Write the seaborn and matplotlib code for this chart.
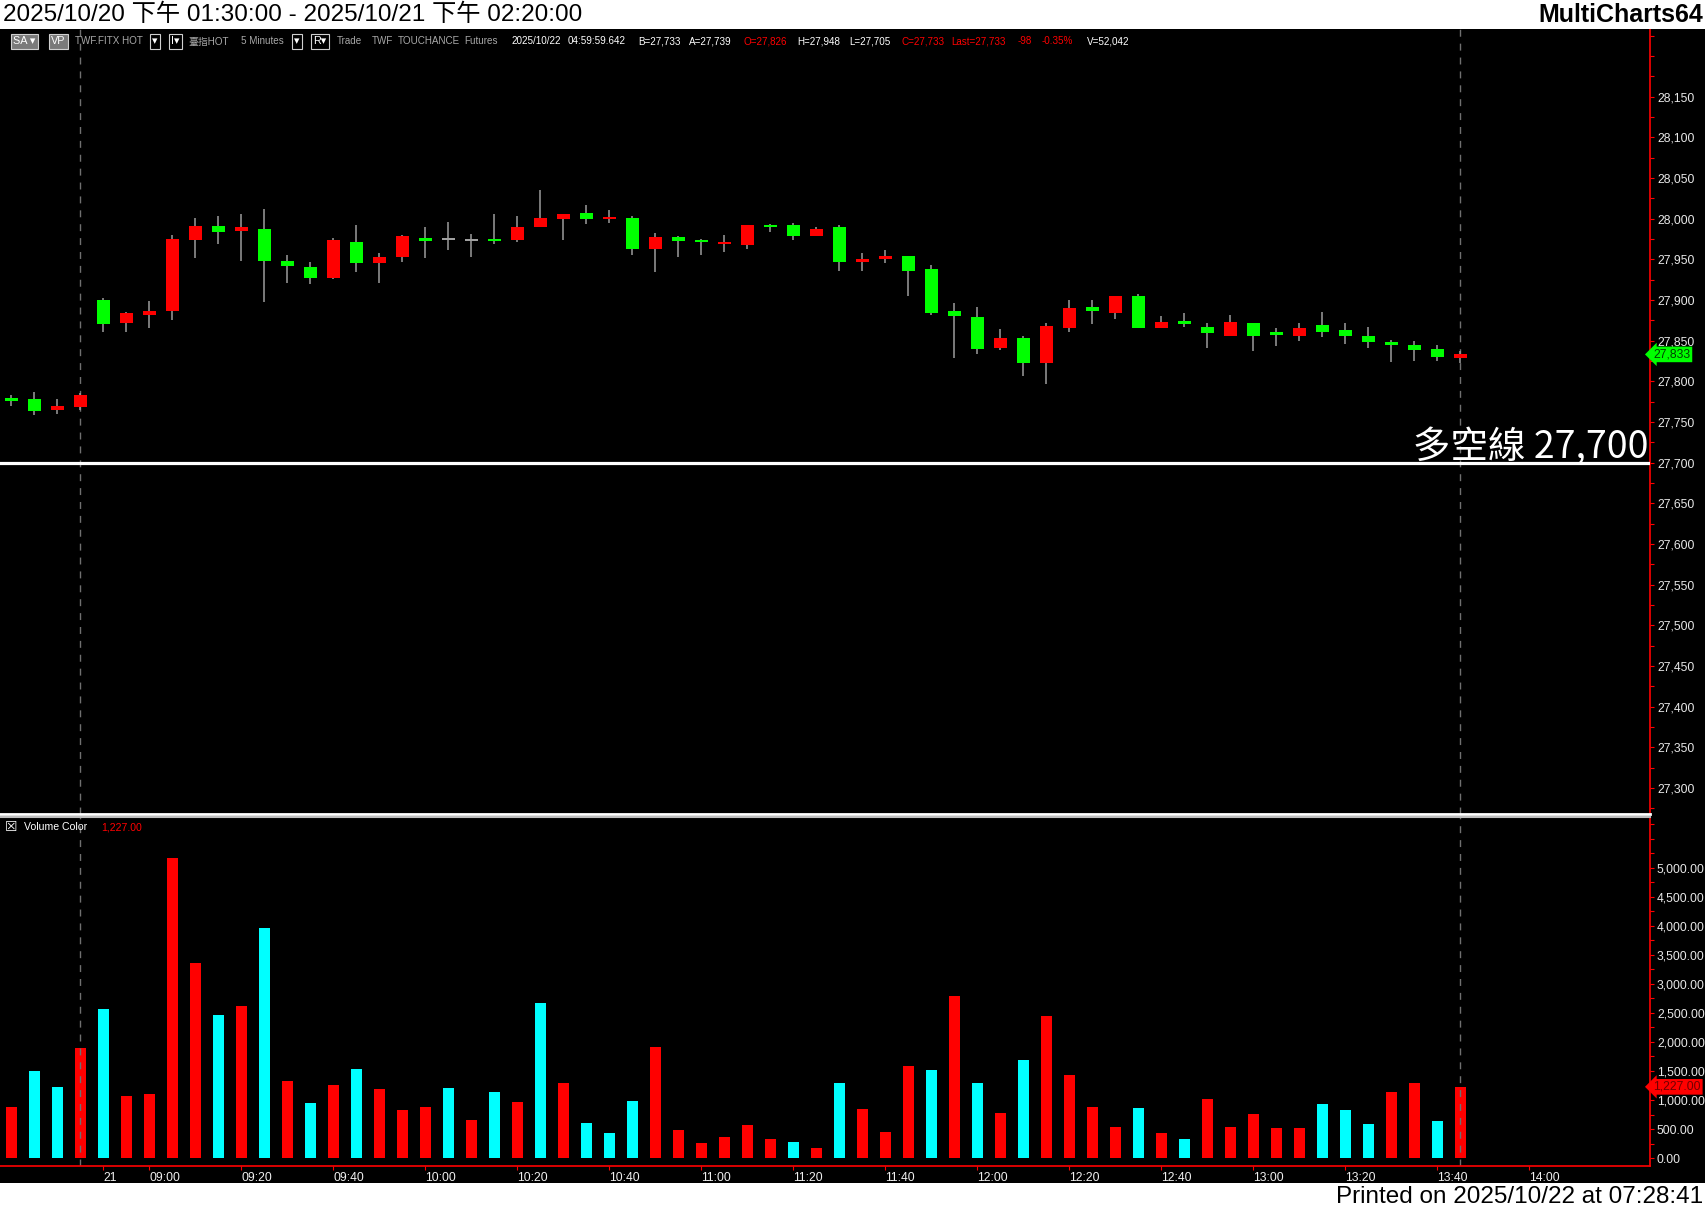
import numpy as np
import pandas as pd
import matplotlib
matplotlib.use("Agg")
import matplotlib.pyplot as plt
import seaborn as sns
from matplotlib.patches import Rectangle
from matplotlib.ticker import MultipleLocator, FixedLocator

# TX futures, 5 minute bars: 10/20 13:30-13:45, then 10/21 08:50-13:45
opens = [27780, 27778, 27765, 27768, 27900, 27872, 27882, 27886, 27974, 27991,
         27985, 27987, 27948, 27941, 27927, 27971, 27945, 27953, 27976, 27974,
         27973, 27975, 27974, 27990, 28000, 28007, 28000, 28001, 27962, 27977,
         27974, 27969, 27967, 27991, 27992, 27979, 27989, 27946, 27950, 27954,
         27938, 27886, 27879, 27841, 27853, 27823, 27865, 27891, 27884, 27905,
         27866, 27874, 27867, 27856, 27872, 27861, 27856, 27869, 27863, 27856,
         27848, 27845, 27840, 27829]
highs = [27783, 27787, 27778, 27785, 27902, 27885, 27899, 27980, 28001, 28003,
         28006, 28012, 27955, 27947, 27976, 27992, 27958, 27980, 27990, 27996,
         27981, 28006, 28003, 28035, 28006, 28017, 28011, 28003, 27982, 27979,
         27975, 27980, 27992, 27993, 27995, 27990, 27992, 27958, 27961, 27954,
         27943, 27896, 27891, 27864, 27855, 27871, 27900, 27900, 27905, 27907,
         27880, 27884, 27871, 27882, 27872, 27866, 27871, 27885, 27871, 27867,
         27851, 27850, 27845, 27837]
lows = [27770, 27758, 27760, 27765, 27860, 27861, 27865, 27875, 27951, 27969,
        27948, 27897, 27921, 27919, 27926, 27934, 27921, 27946, 27951, 27961,
        27953, 27969, 27971, 27990, 27974, 27993, 27994, 27955, 27934, 27953,
        27955, 27959, 27963, 27984, 27974, 27978, 27936, 27935, 27945, 27905,
        27882, 27828, 27833, 27839, 27807, 27797, 27860, 27870, 27877, 27865,
        27865, 27867, 27841, 27855, 27837, 27843, 27849, 27854, 27846, 27841,
        27824, 27825, 27825, 27823]
closes = [27776, 27764, 27770, 27783, 27870, 27884, 27886, 27975, 27991, 27984,
          27989, 27948, 27942, 27927, 27974, 27945, 27953, 27979, 27972, 27974,
          27973, 27972, 27989, 28001, 28006, 28000, 28002, 27962, 27977, 27973,
          27971, 27970, 27992, 27990, 27978, 27987, 27947, 27950, 27954, 27936,
          27884, 27880, 27840, 27853, 27822, 27868, 27890, 27886, 27905, 27865,
          27873, 27870, 27859, 27873, 27856, 27857, 27866, 27860, 27855, 27848,
          27844, 27839, 27830, 27833]
volumes = [881, 1493, 1219, 1888, 2574, 1064, 1098, 5166, 3364, 2471,
           2626, 3965, 1321, 944, 1253, 1527, 1184, 824, 875, 1201,
           652, 1133, 961, 2677, 1287, 601, 429, 978, 1905, 481,
           257, 360, 566, 326, 275, 172, 1287, 841, 446, 1579,
           1510, 2797, 1287, 772, 1682, 2454, 1424, 875, 532, 858,
           435, 332, 1018, 538, 761, 521, 521, 932, 830, 589,
           1138, 1293, 641, 1227]
vol_side = ["up", "dn", "dn", "up", "dn", "up", "up", "up", "up", "dn",
            "up", "dn", "up", "dn", "up", "dn", "up", "up", "up", "dn",
            "up", "dn", "up", "dn", "up", "dn", "dn", "dn", "up", "up",
            "up", "up", "up", "up", "dn", "up", "dn", "up", "up", "up",
            "dn", "up", "dn", "up", "dn", "up", "up", "up", "up", "dn",
            "up", "dn", "up", "up", "up", "up", "up", "dn", "dn", "dn",
            "up", "up", "dn", "up"]
bull_bear = 27700

# time slots of the x axis (chart runs on to 14:00)
slots = pd.date_range("2025-10-20 13:30", "2025-10-20 13:45", freq="5min").append(
    pd.date_range("2025-10-21 08:50", "2025-10-21 14:00", freq="5min"))

RED, GREEN, CYAN = "#ff0000", "#00ff00", "#00ffff"
W, H = 1705, 1211
FONT = ["Liberation Sans", "DejaVu Sans"]
CJK = ["Liberation Sans", "Noto Sans CJK TC", "DejaVu Sans"]
plt.rcParams["font.family"] = FONT


def fx(px):
    return px / W


def fy(py):
    return 1 - py / H


fig = plt.figure(figsize=(W / 100, H / 100), dpi=100, facecolor="black")
ax_p = fig.add_axes([0, fy(814), fx(1650), fy(29) - fy(814)])
ax_v = fig.add_axes([0, fy(1166), fx(1650), fy(817) - fy(1166)])

# white bands for title and footer
fig.patches.append(Rectangle((0, fy(29)), 1, 29 / H, transform=fig.transFigure,
                             fc="white", ec="none", zorder=0))
fig.patches.append(Rectangle((0, 0), 1, 28 / H, transform=fig.transFigure,
                             fc="white", ec="none", zorder=0))

# ---- candles
x = np.arange(len(closes))
o, h, l, c = map(np.array, (opens, highs, lows, closes))
cols = np.where(c > o, RED, np.where(c < o, GREEN, "#a0a0a0"))
ax_p.vlines(x, l, h, color="#9c9c9c", lw=1.1, zorder=2)
ax_p.bar(x, np.maximum(np.abs(c - o), 1.6), bottom=np.minimum(o, c), width=0.57,
         color=cols, linewidth=0, zorder=3)

ax_p.axhline(bull_bear, color="white", lw=2.3, zorder=4)
ax_p.text(0.999, bull_bear + 6, f"多空線 {bull_bear:,}", transform=ax_p.get_yaxis_transform(),
          ha="right", va="baseline", fontsize=27, color="white",
          family=["Noto Sans CJK TC", "DejaVu Sans"], zorder=5)

# ---- volume
sns.barplot(x=x, y=volumes, hue=vol_side, palette={"up": RED, "dn": CYAN},
            native_scale=True, dodge=False, width=0.48, saturation=1,
            errorbar=None, legend=False, linewidth=0, ax=ax_v)
ax_v.set_xlabel("")
ax_v.set_ylabel("")

for ax in (ax_p, ax_v):
    ax.set_facecolor("black")
    ax.set_xlim(-0.5, 71.24)
    ax.axvline(3, color="#707070", ls=(0, (5, 5)), lw=1, zorder=1)
    ax.axvline(len(closes) - 1, color="#707070", ls=(0, (5, 5)), lw=1, zorder=1)
    for s in ("left", "top"):
        ax.spines[s].set_visible(False)
    ax.spines["right"].set_color(RED)
    ax.spines["right"].set_linewidth(1.2)
    ax.yaxis.tick_right()
    ax.tick_params(axis="y", which="both", colors=RED, labelcolor="#e8e8e8",
                   labelsize=8.7, length=3, width=0.8, pad=2)

ax_p.set_ylim(27268, 28233)
ax_p.yaxis.set_major_locator(FixedLocator(np.arange(27300, 28151, 50)))
ax_p.yaxis.set_minor_locator(MultipleLocator(25))
ax_p.yaxis.set_major_formatter(lambda v, p: f"{v:,.0f}")
ax_p.tick_params(axis="x", bottom=False, labelbottom=False)
ax_p.spines["bottom"].set_color("white")
ax_p.spines["bottom"].set_linewidth(2)

ax_v.set_ylim(-137, 5876)
ax_v.yaxis.set_major_locator(FixedLocator(np.arange(0, 5001, 500)))
ax_v.yaxis.set_minor_locator(MultipleLocator(250))
ax_v.yaxis.set_major_formatter(lambda v, p: f"{v:,.2f}")
ax_v.spines["top"].set_visible(True)
ax_v.spines["top"].set_color("#bdbdbd")
ax_v.spines["top"].set_linewidth(1.5)
ax_v.spines["bottom"].set_color(RED)
ax_v.spines["bottom"].set_linewidth(1.2)

tick_pos, tick_lab = [], []
for i, t in enumerate(slots):
    if i > 0 and t.day != slots[i - 1].day:
        tick_pos.append(i)
        tick_lab.append(f"{t.day}")
    elif t.minute % 20 == 0 and t.day == 21:
        tick_pos.append(i)
        tick_lab.append(t.strftime("%H:%M"))
ax_v.set_xticks(tick_pos)
ax_v.set_xticklabels(tick_lab)
ax_v.tick_params(axis="x", colors=RED, labelcolor="#f0f0f0", labelsize=8.7,
                 length=3, width=0.8, pad=1)
for lbl in ax_v.get_xticklabels():
    lbl.set_horizontalalignment("left")

# last value markers on the scales
ax_p.text(1.002, closes[-1], f"{closes[-1]:,}", transform=ax_p.get_yaxis_transform(),
          ha="left", va="center", fontsize=8.7, color="#004000", clip_on=False,
          bbox=dict(boxstyle="larrow,pad=0.15", fc=GREEN, ec="none"), zorder=6)
ax_v.text(1.002, volumes[-1], f"{volumes[-1]:,.2f}", transform=ax_v.get_yaxis_transform(),
          ha="left", va="center", fontsize=8.7, color="#700000", clip_on=False,
          bbox=dict(boxstyle="larrow,pad=0.15", fc=RED, ec="none"), zorder=6)

# ---- title / footer
fig.text(fx(3), fy(15), "2025/10/20 下午 01:30:00 - 2025/10/21 下午 02:20:00",
         family=CJK, fontsize=17.5, color="black", va="center")
fig.text(fx(1703), fy(15), "MultiCharts64", fontsize=18, weight="bold",
         color="black", ha="right", va="center")
fig.text(fx(1703), fy(1197), "Printed on 2025/10/22 at 07:28:41", fontsize=17.5,
         color="black", ha="right", va="center")

# ---- status line inside the price pane
hy = fy(41.5)
boxes = [(13, "SA ▾", "#7a7a7a"), (51, "VP", "#7a7a7a"), (152, "▾", "black"),
         (171, "I▾", "black"), (294, "▾", "black"), (313, "R▾", "black")]
for bx, s, fc in boxes:
    fig.text(fx(bx), hy, s, fontsize=7.8, color="white", va="center",
             bbox=dict(boxstyle="square,pad=0.22", fc=fc, ec="#d0d0d0", lw=0.8))
header = [(75, "TWF.FITX HOT", "#a8a8a8"), (188, "臺指HOT", "#a8a8a8"),
          (241, "5 Minutes", "#a8a8a8"), (337, "Trade", "#a8a8a8"),
          (372, "TWF", "#a8a8a8"), (398, "TOUCHANCE", "#a8a8a8"),
          (464, "Futures", "#a8a8a8"), (512, "2025/10/22", "white"),
          (568, "04:59:59.642", "white"), (638, "B=27,733", "white"),
          (689, "A=27,739", "white"), (744, "O=27,826", RED),
          (797, "H=27,948", "white"), (849, "L=27,705", "white"),
          (901, "C=27,733", RED), (951, "Last=27,733", RED),
          (1018, "-98", RED), (1042, "-0.35%", RED), (1087, "V=52,042", "white")]
for hx, s, col in header:
    fig.text(fx(hx), hy, s, fontsize=7.1, color=col, va="center", family=CJK)

# ---- volume pane caption
fig.text(fx(5), fy(827), "☒", fontsize=10, color="white", va="center",
         family=["DejaVu Sans"])
fig.text(fx(24), fy(827), "Volume Color", fontsize=7.6, color="white", va="center")
fig.text(fx(101), fy(827), f"{volumes[-1]:,.2f}", fontsize=7.6, color=RED, va="center")

fig.savefig("out.png", dpi=100, facecolor="black")
